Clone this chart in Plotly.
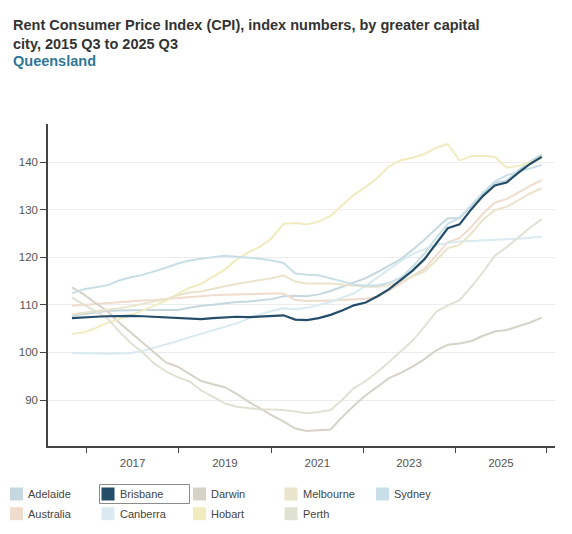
import pandas as pd
import plotly.graph_objects as go

# ----------------------------
# DATA (Rent CPI index numbers, 2015 Q3 .. 2025 Q3)
# ----------------------------
quarters = pd.period_range("2015Q3", "2025Q3", freq="Q").to_timestamp()

adelaide = [107.7, 108.0, 108.3, 108.7, 108.8, 108.9, 108.9, 108.9, 108.9, 108.9,
            109.4, 109.8, 110.0, 110.3, 110.6, 110.7, 110.9, 111.2, 111.8, 111.9,
            111.8, 112.2, 112.9, 113.8, 114.7, 115.6, 116.9, 118.2, 119.6, 121.6,
            123.7, 126.0, 128.2, 128.2, 130.8, 133.4, 135.6, 136.1, 138.2, 140.1, 141.6]
australia = [109.8, 110.0, 110.2, 110.3, 110.6, 110.8, 110.9, 111.0, 111.2, 111.4,
             111.7, 111.9, 112.0, 112.1, 112.2, 112.3, 112.3, 112.4, 112.4, 111.0,
             110.8, 110.8, 110.9, 111.0, 111.1, 111.3, 111.7, 113.0, 114.5, 116.0,
             117.6, 120.3, 123.2, 124.0, 126.4, 129.2, 131.5, 132.2, 133.7, 135.0, 136.2]
brisbane = [107.2, 107.4, 107.5, 107.6, 107.7, 107.7, 107.6, 107.5, 107.4, 107.3,
            107.2, 107.0, 107.2, 107.4, 107.5, 107.4, 107.5, 107.6, 107.8, 106.9,
            106.8, 107.2, 107.9, 108.8, 109.9, 110.5, 111.8, 113.3, 115.3, 117.2,
            119.6, 122.9, 126.1, 126.9, 130.1, 132.9, 135.1, 135.7, 137.8, 139.6, 141.1]
canberra = [99.9, 99.8, 99.7, 99.7, 99.8, 99.9, 100.3, 101.0, 101.6, 102.4,
            103.2, 103.9, 104.7, 105.4, 106.1, 107.1, 108.0, 108.7, 109.3, 109.1,
            109.4, 110.0, 110.6, 111.5, 112.4, 114.0, 115.8, 117.6, 119.2, 120.7,
            121.7, 122.6, 123.0, 123.3, 123.4, 123.5, 123.7, 123.8, 123.9, 124.1, 124.3]
darwin = [113.7, 112.2, 110.4, 108.7, 106.3, 104.2, 102.0, 100.0, 97.9, 97.0,
          95.4, 94.0, 93.3, 92.7, 91.3, 89.7, 88.3, 86.8, 85.5, 84.0,
          83.5, 83.6, 83.8, 86.4, 88.8, 91.0, 92.9, 94.6, 95.7, 97.0,
          98.6, 100.4, 101.6, 101.9, 102.4, 103.5, 104.4, 104.7, 105.5, 106.3, 107.3]
hobart = [103.9, 104.2, 105.1, 106.2, 107.0, 107.8, 108.8, 109.8, 110.9, 112.3,
          113.6, 114.4, 115.8, 117.4, 119.5, 121.0, 122.2, 124.0, 127.0, 127.2,
          126.9, 127.5, 128.7, 130.8, 133.1, 134.8, 136.7, 139.1, 140.4, 140.9,
          141.7, 143.0, 143.8, 140.3, 141.3, 141.3, 141.1, 138.8, 139.2, 139.9, 140.8]
melbourne = [108.0, 108.3, 108.6, 108.9, 109.3, 109.7, 110.2, 110.7, 111.2, 112.0,
             112.6, 112.8, 113.4, 113.9, 114.4, 114.8, 115.2, 115.6, 116.2, 114.9,
             114.5, 114.5, 114.5, 114.3, 114.0, 113.8, 113.8, 114.1, 115.0, 116.0,
             117.0, 119.3, 121.9, 122.6, 125.0, 127.9, 129.9, 130.6, 132.1, 133.4, 134.5]
perth = [111.5, 110.1, 108.6, 107.2, 104.4, 102.0, 100.0, 97.7, 96.0, 94.8,
         93.9, 92.0, 90.7, 89.3, 88.6, 88.3, 88.0, 88.0, 87.9, 87.6,
         87.2, 87.5, 87.9, 90.0, 92.5, 94.0, 95.9, 98.0, 100.3, 102.5,
         105.4, 108.5, 109.9, 111.0, 113.8, 116.9, 120.3, 122.1, 124.2, 126.2, 128.0]
sydney = [112.4, 113.3, 113.7, 114.1, 115.1, 115.8, 116.3, 117.0, 117.8, 118.7,
          119.3, 119.7, 120.0, 120.3, 120.1, 119.9, 119.7, 119.3, 118.8, 116.6,
          116.3, 116.2, 115.6, 114.9, 114.3, 114.0, 114.1, 114.6, 115.7, 118.0,
          120.8, 124.0, 127.0, 128.3, 131.0, 133.6, 135.9, 137.2, 138.0, 138.7, 139.4]

year_ticks = ["2016-10-15", "2018-10-03", "2020-09-20", "2022-09-03", "2024-08-18"]
year_labels = ["2017", "2019", "2021", "2023", "2025"]
minor_ticks = ["2015-10-23", "2017-10-10", "2019-10-01", "2021-09-12", "2023-08-27", "2025-08-09"]

series = {
    "Adelaide": (adelaide, "#c6d8df"),
    "Australia": (australia, "#f0dccd"),
    "Canberra": (canberra, "#d9ebf1"),
    "Darwin": (darwin, "#d6d2c8"),
    "Hobart": (hobart, "#f1ecbf"),
    "Melbourne": (melbourne, "#e9e4cb"),
    "Perth": (perth, "#dfe2d3"),
    "Sydney": (sydney, "#c9dfe7"),
    "Brisbane": (brisbane, "#234d69"),
}

# legend order, two rows
legend_rows = [["Adelaide", "Brisbane", "Darwin", "Melbourne", "Sydney"],
               ["Australia", "Canberra", "Hobart", "Perth"]]

title_lines = ["Rent Consumer Price Index (CPI), index numbers, by greater capital",
               "city, 2015 Q3 to 2025 Q3"]
subtitle = "Queensland"

FONT = "Liberation Sans, Arial, Helvetica, sans-serif"
# page body has an 8px margin, so the figure sits 8px in from the window corner
OFF = 8
W, H = 572 - OFF, 534 - OFF
L, T = 48 - OFF, 124 - OFF
R, B = W - (555 - OFF), H - (446 - OFF)
PW, PH = W - L - R, H - T - B


def px(x):
    # window pixel -> paper x
    return (x - OFF - L) / PW


def py(y):
    # window pixel -> paper y
    return (H - B - (y - OFF)) / PH


fig = go.Figure()

for name, (vals, color) in series.items():
    fig.add_trace(go.Scatter(
        x=quarters, y=vals, mode="lines", name=name,
        line=dict(color=color, width=2.2 if name == "Brisbane" else 2),
        showlegend=False,
        hovertemplate="%{y:.1f}<extra>" + name + "</extra>",
    ))

# ----------------------------
# LEGEND (square swatches, two rows)
# ----------------------------
shapes = []
annotations = []
for r, row in enumerate(legend_rows):
    cy = 494 + r * 19.7
    for c, name in enumerate(row):
        x0 = 10 + c * 91.5
        shapes.append(dict(type="rect", xref="paper", yref="paper",
                           x0=px(x0), x1=px(x0 + 13), y0=py(cy - 6.5), y1=py(cy + 6.5),
                           fillcolor=series[name][1], line=dict(width=0)))
        annotations.append(dict(text=name, xref="paper", yref="paper",
                                x=px(x0 + 16), y=py(cy), xanchor="left", yanchor="middle",
                                showarrow=False, font=dict(family=FONT, size=11, color="#444")))

# highlight box round Brisbane
shapes.append(dict(type="rect", xref="paper", yref="paper",
                   x0=px(99.5), x1=px(189.5), y0=py(503.5), y1=py(484.5),
                   line=dict(color="#8a8a8a", width=1), fillcolor="rgba(0,0,0,0)"))

# ----------------------------
# TITLE
# ----------------------------
for text, cy in zip(title_lines, [24.5, 43.5]):
    annotations.append(dict(text="<b>" + text + "</b>", xref="paper", yref="paper",
                            x=px(11), y=py(cy), xanchor="left", yanchor="middle",
                            showarrow=False, font=dict(family=FONT, size=14.5, color="#333")))
annotations.append(dict(text="<b>" + subtitle + "</b>", xref="paper", yref="paper",
                        x=px(11), y=py(61), xanchor="left", yanchor="middle",
                        showarrow=False, font=dict(family=FONT, size=14.5, color="#2e7797")))

fig.update_layout(
    width=W, height=H,
    margin=dict(l=L, r=R, t=T, b=B),
    paper_bgcolor="white",
    plot_bgcolor="white",
    font=dict(family=FONT, color="#555"),
    xaxis=dict(
        type="date",
        range=["2014-12-27", "2025-10-12"],
        tickmode="array", tickvals=year_ticks, ticktext=year_labels,
        ticks="outside", ticklen=5, tickcolor="rgba(0,0,0,0)",
        tickfont=dict(size=11.5, color="#555"),
        minor=dict(tickmode="array", tickvals=minor_ticks, ticks="outside",
                   ticklen=5, tickcolor="#444", showgrid=False),
        showgrid=False, zeroline=False,
        showline=True, linecolor="#444", linewidth=1.5,
    ),
    yaxis=dict(
        range=[80.34, 148],
        tick0=0, dtick=10,
        ticks="outside", ticklen=6, tickcolor="#444",
        tickfont=dict(size=11.5, color="#555"),
        showgrid=True, gridcolor="#ececec", gridwidth=1, zeroline=False,
        showline=True, linecolor="#444", linewidth=1.5,
    ),
    shapes=shapes,
    annotations=annotations,
    hovermode="x unified",
    showlegend=False,
)

fig.write_html("out.html")
